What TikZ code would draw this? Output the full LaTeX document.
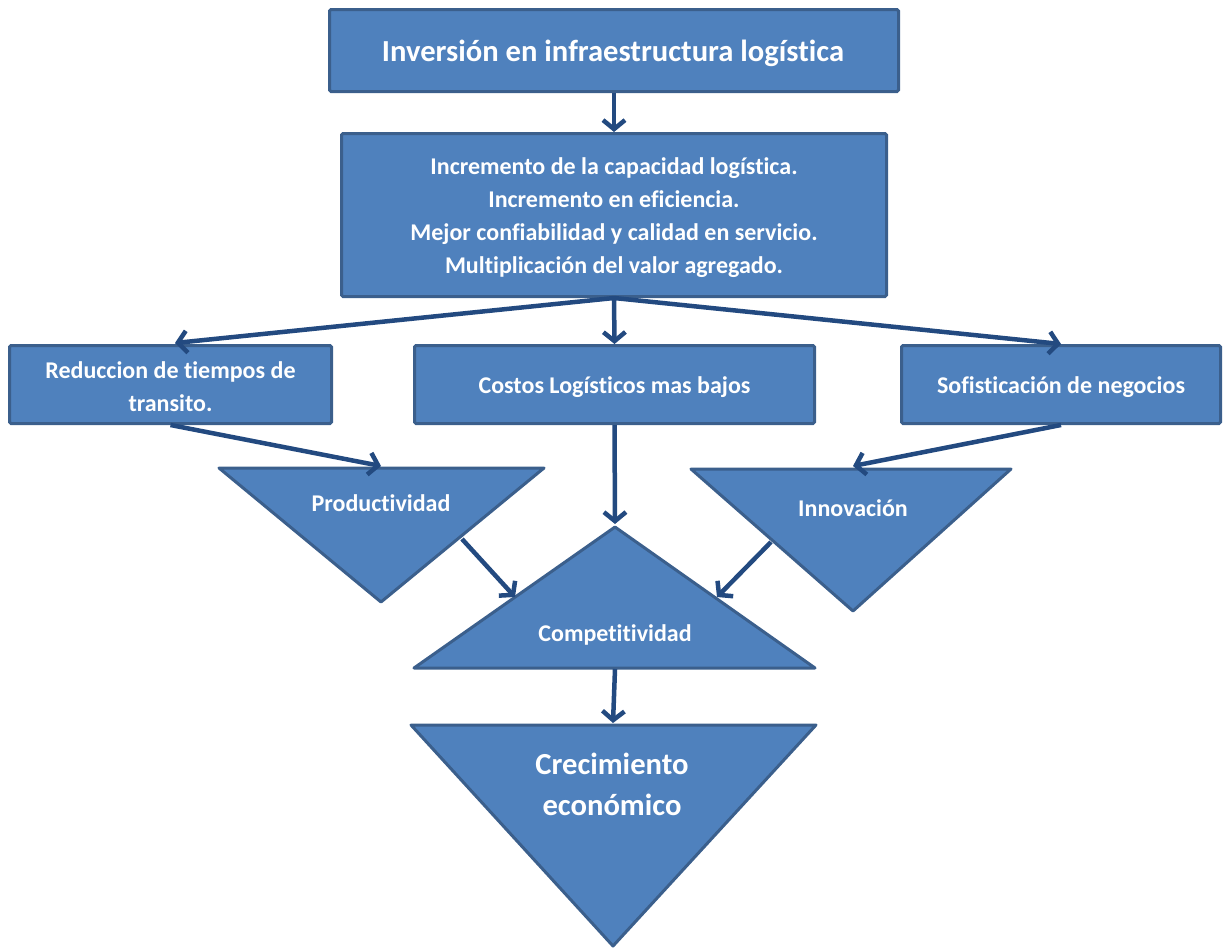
\documentclass[tikz,border=0pt]{standalone}
\usepackage{fontspec}
\setmainfont{Carlito}[Ligatures=NoCommon]
\usetikzlibrary{arrows.meta}
\definecolor{boxfill}{HTML}{4F81BD}
\definecolor{boxline}{HTML}{3B5F8C}
\definecolor{arrowc}{HTML}{234A80}
\begin{document}
\begin{tikzpicture}[x=1pt,y=-1pt,
  box/.style={draw=boxline, fill=boxfill, line width=3pt, rounded corners=1.5pt, inner sep=0pt, text=white, align=center},
  tri/.style={draw=boxline, fill=boxfill, line width=3pt, line join=round},
  lab/.style={text=white, align=center, inner sep=0pt},
  arr/.style={draw=arrowc, line width=4.5pt, -{Straight Barb[length=9pt,width=22pt]}},
  fmid/.style={font=\fontsize{24}{33}\selectfont\bfseries},
  fbig/.style={font=\fontsize{30.6}{41}\selectfont\bfseries}]
\useasboundingbox (0,0) rectangle (1225,951);

% boxes
\node[box, minimum width=569pt, minimum height=82pt] (top) at (614,50.5) {};
\node[box, minimum width=545pt, minimum height=163pt] (second) at (614,215) {};
\node[box, minimum width=322pt, minimum height=78pt] (left) at (170.5,384.5) {};
\node[box, minimum width=400pt, minimum height=78pt] (mid) at (614.5,384.5) {};
\node[box, minimum width=319pt, minimum height=78pt] (right) at (1061,384.5) {};

% triangles
\coordinate (pA) at (219,468); \coordinate (pB) at (544,468); \coordinate (pC) at (381,602);
\coordinate (iA) at (691,469); \coordinate (iB) at (1011,469); \coordinate (iC) at (853,611);
\coordinate (cA) at (615,527); \coordinate (cB) at (414,668); \coordinate (cC) at (815,668);
\coordinate (eA) at (411,725); \coordinate (eB) at (816,725); \coordinate (eC) at (613,946);
\draw[tri] (pA) -- (pB) -- (pC) -- cycle;
\draw[tri] (iA) -- (iB) -- (iC) -- cycle;
\draw[tri] (cA) -- (cB) -- (cC) -- cycle;
\draw[tri] (eA) -- (eB) -- (eC) -- cycle;

% texts
\node[lab, fbig] (ttop) at (613,53) {Inversión en infraestructura logística};
\node[lab, fmid] (tsecond) at (614,218) {Incremento de la capacidad logística.\\Incremento en eficiencia.\\Mejor confiabilidad y calidad en servicio.\\Multiplicación del valor agregado.};
\node[lab, fmid] (tleft) at (170.5,387) {Reduccion de tiempos de\\transito.};
\node[lab, fmid] (tmid) at (614.5,387) {Costos Logísticos mas bajos};
\node[lab, fmid] (tright) at (1061,387) {Sofisticación de negocios};
\node[lab, fmid] (tprod) at (381,503) {Productividad};
\node[lab, fmid] (tinno) at (853,508) {Innovación};
\node[lab, fmid] (tcomp) at (615,635) {Competitividad};
\node[lab, fbig] (tcre) at (612,784) {Crecimiento\\económico};

% connector end points
\coordinate (leftIn) at (175,343);
\coordinate (prodIn) at (381,466);
\coordinate (innoIn) at (853,466);
\coordinate (compIn) at (615,524);
\coordinate (prodOut) at (462,539);
\coordinate (compInL) at (515,597);
\coordinate (innoOut) at (771,542);
\coordinate (compInR) at (717,597);
\coordinate (compOut) at (615,669);
\coordinate (creIn) at (613,723);

% connectors
\draw[arr] (top.south) -- (second.north);
\draw[arr] (second.south) -- (leftIn);
\draw[arr] (second.south) -- (mid.north);
\draw[arr] (second.south) -- (right.north);
\draw[arr] (left.south) -- (prodIn);
\draw[arr] (right.south) -- (innoIn);
\draw[arr] (mid.south) -- (compIn);
\draw[arr] (prodOut) -- (compInL);
\draw[arr] (innoOut) -- (compInR);
\draw[arr] (compOut) -- (creIn);
\end{tikzpicture}
\end{document}
